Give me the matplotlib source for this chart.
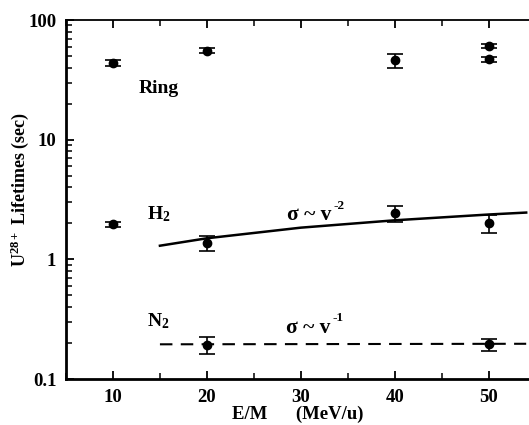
import numpy as np
import matplotlib
matplotlib.use("Agg")
import matplotlib.pyplot as plt
from matplotlib.ticker import FixedLocator, FuncFormatter, LogLocator, NullFormatter, MultipleLocator

plt.rcParams['font.family'] = ['Liberation Serif', 'DejaVu Serif']
plt.rcParams['font.weight'] = 'bold'
plt.rcParams['mathtext.fontset'] = 'custom'
plt.rcParams['mathtext.rm'] = 'Liberation Serif:bold'
plt.rcParams['mathtext.it'] = 'Liberation Serif:bold'
plt.rcParams['mathtext.bf'] = 'Liberation Serif:bold'

# data ####################################################################
ring_x = [10, 20, 40, 50, 50]
ring_y = [44, 55.5, 46, 60.5, 47]
ring_lo = [2.5, 2.5, 6, 2.5, 2]
ring_hi = [2.5, 2.5, 6, 2.5, 2]

h2_x = [10, 20, 40, 50]
h2_y = [1.96, 1.38, 2.43, 2.0]
h2_lo = [0.08, 0.2, 0.36, 0.33]
h2_hi = [0.08, 0.19, 0.36, 0.35]

n2_x = [20, 50]
n2_y = [0.193, 0.195]
n2_lo = [0.032, 0.022]
n2_hi = [0.030, 0.020]

# sigma ~ v^-2 curve
fit2_x = [15, 20, 30, 40, 50, 54]
fit2_y = [1.30, 1.50, 1.84, 2.12, 2.37, 2.46]
# sigma ~ v^-1 line
fit1_x = [15, 54]
fit1_y = [0.195, 0.197]

# plot ####################################################################
fig = plt.figure(figsize=(5.29, 4.25), dpi=100)
ax = fig.add_axes([0.1248, 0.1082, 0.8752, 0.8447])

ekw = dict(fmt='o', color='black', ms=6, capsize=5.5, elinewidth=1.2, capthick=1.2)
ax.errorbar(ring_x, ring_y, yerr=[ring_lo, ring_hi], **ekw)
ax.errorbar(h2_x, h2_y, yerr=[h2_lo, h2_hi], **ekw)
ax.errorbar(n2_x, n2_y, yerr=[n2_lo, n2_hi], **ekw)

ax.plot(fit2_x, fit2_y, color='black', lw=1.8)
ax.plot(fit1_x, fit1_y, color='black', lw=1.5, dashes=(6, 4))

ax.set_yscale('log')
ax.set_xlim(5, 54.3)
ax.set_ylim(0.1, 100)

ax.xaxis.set_major_locator(FixedLocator([10, 20, 30, 40, 50]))
ax.xaxis.set_minor_locator(MultipleLocator(5))
ax.yaxis.set_major_locator(FixedLocator([0.1, 1, 10, 100]))
ax.yaxis.set_major_formatter(FuncFormatter(lambda v, p: '%g' % v))
ax.yaxis.set_minor_locator(LogLocator(base=10, subs=np.arange(2, 10)))
ax.yaxis.set_minor_formatter(NullFormatter())

ax.tick_params(axis='both', which='major', direction='in', length=6, width=1.3, labelsize=13.5, pad=7)
ax.tick_params(axis='both', which='minor', direction='in', length=4, width=1.1)
ax.tick_params(axis='x', which='both', top=True)
ax.tick_params(axis='y', which='both', right=False)

ax.spines['right'].set_visible(False)
ax.spines['left'].set_linewidth(2)
ax.spines['bottom'].set_linewidth(2)
ax.spines['top'].set_linewidth(1.3)

ax.set_xlabel('E/M      (MeV/u)', fontsize=13.5, fontweight='bold', labelpad=0)
fig.text(20 / 529, 1 - 190 / 425, r'U$^{28+}$ Lifetimes (sec)', fontsize=13,
         fontweight='bold', rotation=90, ha='center', va='center')

ax.text(12.7, 27, 'Ring', fontsize=14, fontweight='bold', va='center')
ax.text(13.6, 2.4, r'H$_2$', fontsize=14, fontweight='bold', va='center')
ax.text(13.6, 0.305, r'N$_2$', fontsize=14, fontweight='bold', va='center')

# sigma labels, superscript drawn as its own text so the hyphen stays a hyphen
ax.text(28.5, 2.33, '\u03c3 ~ v', fontsize=15.5, fontweight='bold', va='center')
ax.text(33.5, 2.8, '-2', fontsize=9.5, fontweight='bold', va='center')
ax.text(28.4, 0.268, '\u03c3 ~ v', fontsize=15.5, fontweight='bold', va='center')
ax.text(33.4, 0.323, '-1', fontsize=9.5, fontweight='bold', va='center')

fig.savefig('out.png', dpi=100)
